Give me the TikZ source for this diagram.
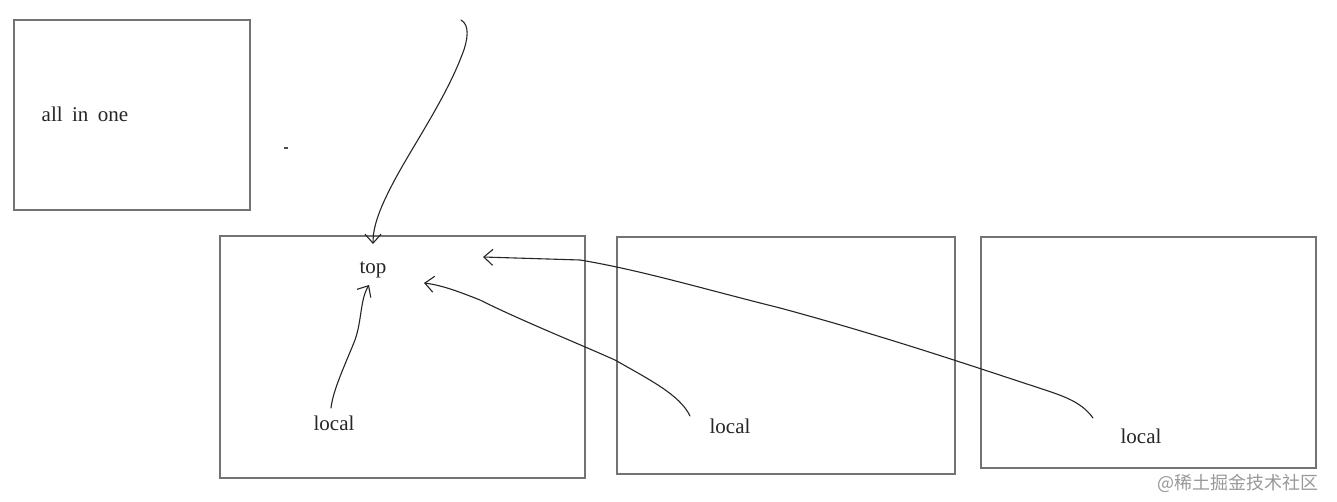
\documentclass[tikz,border=0pt]{standalone}
\usepackage{fontspec}
\setmainfont{Liberation Serif}
\newfontfamily\cjk{Noto Sans CJK SC}
\usetikzlibrary{arrows.meta}
\begin{document}
\begin{tikzpicture}[x=1pt,y=-1pt,
  boxstyle/.style={draw=black!55,line width=1.8pt},
  lbl/.style={font=\fontsize{21}{24}\selectfont,text=black!85,inner sep=1pt},
  pen/.style={draw=black!85,line width=1.1pt,line cap=round,line join=round},
  tip/.style={-{Straight Barb[length=9pt,width=16pt,line width=1.1pt]}}]
\useasboundingbox[fill=white] (0,0) rectangle (1337,502);
% boxes
\draw[boxstyle] (14,20) rectangle (250,210);
\draw[boxstyle] (220,236) rectangle (585,478);
\draw[boxstyle] (617,237) rectangle (955,474);
\draw[boxstyle] (981,237) rectangle (1316,468);
% texts
\node[lbl] (allone) at (85,114) {all\hspace{0.45em}in\hspace{0.45em}one};
\node[lbl] (top) at (373,270) {top};
\node[lbl] (loc1) at (334,423) {local};
\node[lbl] (loc2) at (730,426) {local};
\node[lbl] (loc3) at (1141,436) {local};
\node[font=\cjk\fontsize{18}{20}\selectfont,text=black!40,inner sep=0pt] (wm) at (1238,483) {@稀土掘金技术社区};
\fill[black!70] (284,147.5) rectangle (288,149);
% curve endpoints
\coordinate (c1s) at (461,20);
\coordinate (c1e) at (373,244);
\coordinate (c2s) at (331,408);
\coordinate (c2e) at (369,285);
\coordinate (c3s) at (690,416);
\coordinate (c3e) at (424,283);
\coordinate (c4s) at (1093,418);
\coordinate (c4e) at (483,257);
% connectors
\draw[pen,tip] (c1s) .. controls (470,25) and (468,40) .. (462,55)
  .. controls (445,100) and (410,150) .. (392,185)
  .. controls (378,212) and (373,228) .. (c1e);
\draw[pen,tip] (c2s) .. controls (333,390) and (345,365) .. (355,340)
  .. controls (362,320) and (360,300) .. (c2e);
\draw[pen,tip] (c3s) .. controls (680,395) and (650,380) .. (615,360)
  .. controls (570,340) and (520,320) .. (480,300)
  .. controls (455,290) and (440,285) .. (c3e);
\draw[pen,tip] (c4s) .. controls (1080,400) and (1060,395) .. (1030,385)
  .. controls (960,362) and (880,335) .. (780,308)
  .. controls (700,288) and (640,270) .. (580,260)
  -- (c4e);
\end{tikzpicture}
\end{document}
